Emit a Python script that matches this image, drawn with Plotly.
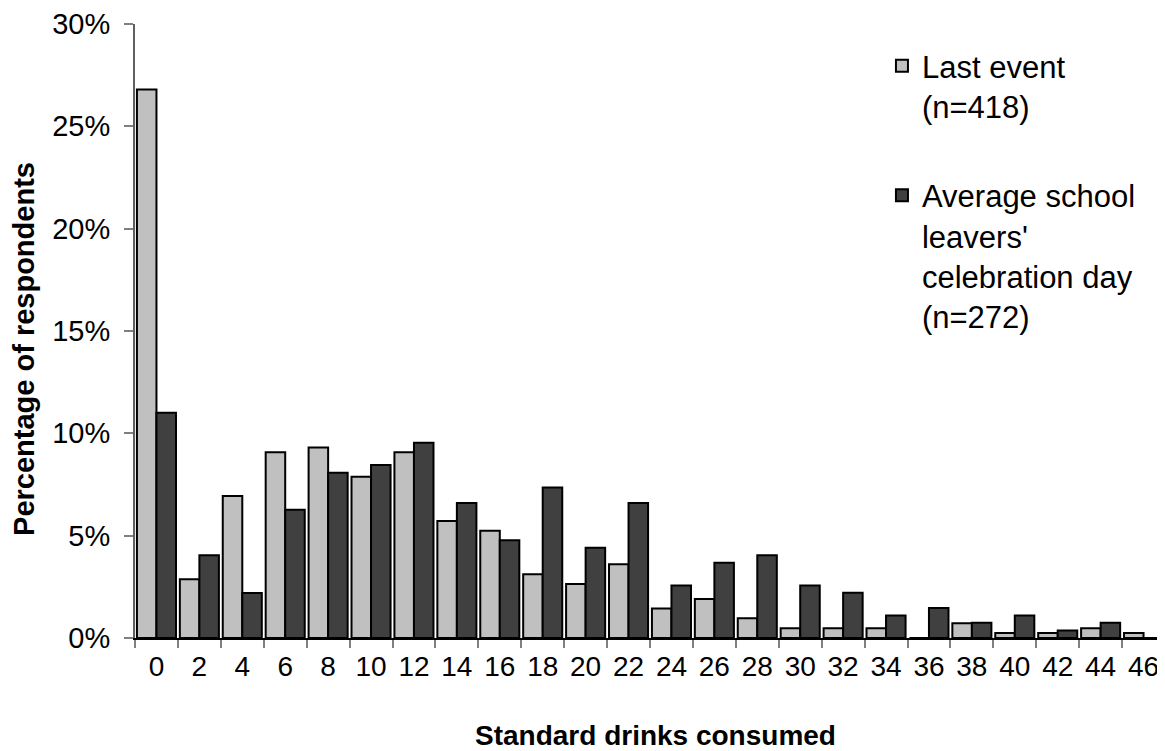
import plotly.graph_objects as go

categories = [str(v) for v in range(0, 48, 2)]
last_event = [26.8, 2.87, 6.94, 9.07, 9.31, 7.88, 9.07, 5.72, 5.24, 3.11, 2.64, 3.6,
              1.44, 1.9, 0.96, 0.48, 0.48, 0.48, 0.0, 0.72, 0.24, 0.24, 0.48, 0.24]
average_day = [11.0, 4.04, 2.2, 6.27, 8.08, 8.45, 9.54, 6.6, 4.78, 7.35, 4.41, 6.6,
               2.57, 3.68, 4.04, 2.57, 2.21, 1.1, 1.47, 0.74, 1.1, 0.37, 0.74, 0.0]
series_names = ["Last event<br>(n=418)",
                "Average school<br>leavers'<br>celebration day<br>(n=272)"]
y_ticks = [0, 5, 10, 15, 20, 25, 30]

FONT = "Liberation Sans, Arial, sans-serif"

fig = go.Figure()
fig.add_trace(go.Bar(x=categories, y=last_event, name=series_names[0],
                     legendgroup="a",
                     marker=dict(color="#c0c0c0", line=dict(color="black", width=2))))
fig.add_trace(go.Bar(x=categories, y=average_day, name=series_names[1],
                     legendgroup="b",
                     marker=dict(color="#404040", line=dict(color="black", width=2))))

fig.update_layout(
    width=1157, height=751,
    margin=dict(l=127, r=0, t=16, b=121),
    paper_bgcolor="white", plot_bgcolor="white",
    font=dict(family=FONT, size=28, color="black"),
    barmode="group", bargap=0.09, bargroupgap=0,
    showlegend=True,
    legend=dict(x=0.7252, y=0.9756, xanchor="left", yanchor="top",
                font=dict(size=31), valign="top", tracegroupgap=46,
                bgcolor="rgba(0,0,0,0)"),
    xaxis=dict(type="category", tickson="boundaries", ticks="outside", ticklen=8,
               tickcolor="#808080", tickwidth=1.5, showline=True, linecolor="black",
               linewidth=1.5, showgrid=False, tickfont=dict(size=28),
               ticklabelstandoff=3, range=[-0.5, 23.5]),
    yaxis=dict(range=[0, 30], tickvals=y_ticks, ticktext=[f"{v}%" for v in y_ticks],
               ticks="outside", ticklen=9, tickcolor="#808080", tickwidth=1.5,
               showline=True, linecolor="#606060", linewidth=2, showgrid=False,
               zeroline=False, tickfont=dict(size=29), ticklabelstandoff=8),
    annotations=[
        dict(text="<b>Percentage of respondents</b>", xref="paper", yref="paper",
             x=-0.1078, y=0.4707, xanchor="center", yanchor="middle", textangle=-90,
             showarrow=False, font=dict(size=29)),
        dict(text="<b>Standard drinks consumed</b>", xref="paper", yref="paper",
             x=0.505, y=-0.1596, xanchor="center", yanchor="middle",
             showarrow=False, font=dict(size=28)),
    ],
)

fig.write_html("out.html")
